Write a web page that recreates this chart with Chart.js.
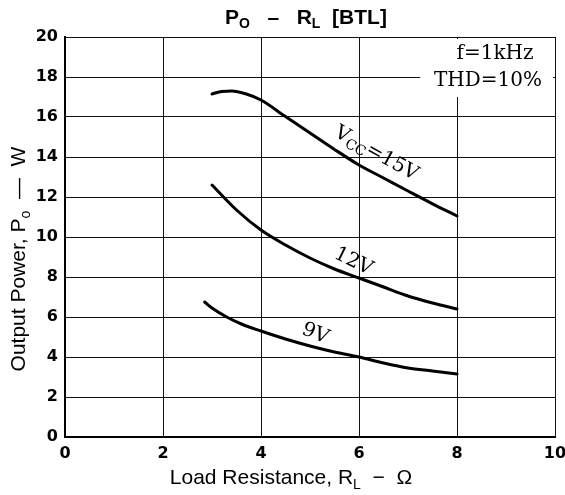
<!DOCTYPE html>
<html><head><meta charset="utf-8">
<script src="https://cdn.jsdelivr.net/npm/chart.js@4.4.0/dist/chart.umd.min.js"></script>
<style>html,body{margin:0;padding:0;background:#fff}#wrap{width:565px;height:495px}</style>
</head><body><div id="wrap"><canvas id="c" width="565" height="495"></canvas></div>
<script>
// ---- data ----
const xTicks = [0, 2, 4, 6, 8, 10];
const yTicks = [0, 2, 4, 6, 8, 10, 12, 14, 16, 18, 20];

const rL15 = [3.0, 3.2, 3.4, 3.7, 4.0, 4.5, 5.0, 5.5, 6.0, 6.5, 7.0, 7.5, 8.0];
const po15 = [17.15, 17.28, 17.3, 17.15, 16.85, 16.02, 15.2, 14.38, 13.6, 12.95, 12.3, 11.66, 11.05];

const rL12 = [3.0, 3.5, 4.0, 4.5, 5.0, 5.5, 6.0, 6.5, 7.0, 7.5, 8.0];
const po12 = [12.6, 11.35, 10.35, 9.6, 8.95, 8.4, 7.95, 7.5, 7.05, 6.7, 6.4];

const rL9 = [2.85, 3.0, 3.3, 3.6, 4.0, 4.5, 5.0, 5.5, 6.0, 6.5, 7.0, 7.5, 8.0];
const po9 = [6.75, 6.45, 6.0, 5.65, 5.3, 4.9, 4.55, 4.25, 4.0, 3.7, 3.45, 3.3, 3.15];

const seriesNames = ['15V', '12V', '9V'];

function pts(xs, ys) { return xs.map((x, i) => ({ x: x, y: ys[i] })); }

// ---- rich text helper (subscripts) ----
function richWidth(ctx, parts, font, subFont) {
  let w = 0;
  for (const p of parts) { ctx.font = p[1] ? subFont : font; w += ctx.measureText(p[0]).width; }
  return w;
}
function drawRich(ctx, parts, x, y, font, subFont, subDy) {
  let w = richWidth(ctx, parts, font, subFont);
  let cx = x - w / 2;
  ctx.textAlign = 'left';
  ctx.textBaseline = 'alphabetic';
  for (const p of parts) {
    ctx.font = p[1] ? subFont : font;
    ctx.fillText(p[0], cx, y + (p[1] ? subDy : 0));
    cx += ctx.measureText(p[0]).width;
  }
}

const textPlugin = {
  id: 'texts',
  afterDraw(chart) {
    const ctx = chart.ctx;
    const xs = chart.scales.x, ys = chart.scales.y;
    const ca = chart.chartArea;
    ctx.save();
    ctx.fillStyle = '#000';

    // Title
    drawRich(ctx, [['P', 0], ['O', 1], ['   \u2013   ', 0], ['R', 0], ['L', 1], ['  [BTL]', 0]],
      306, 24, 'bold 21px "Liberation Sans"', 'bold 14px "Liberation Sans"', 4);

    // X axis title
    drawRich(ctx, [['Load Resistance, R', 0], ['L', 1], ['  \u2212  \u03A9', 0]],
      291, 484, '21px "Liberation Sans"', '14px "Liberation Sans"', 5);

    // Y axis title (rotated)
    ctx.save();
    ctx.translate(25, 259);
    ctx.rotate(-Math.PI / 2);
    drawRich(ctx, [['Output Power, P', 0], ['o', 1], ['  \u2014  W', 0]],
      0, 0, '21px "Liberation Sans"', '14px "Liberation Sans"', 5);
    ctx.restore();

    // Conditions box
    ctx.fillStyle = '#fff';
    const bx0 = xs.getPixelForValue(7.25), by0 = ca.top + 2;
    ctx.fillRect(bx0, by0, ca.right - 2 - bx0, ys.getPixelForValue(17.0) - by0);
    ctx.fillStyle = '#000';
    ctx.font = '20px "DejaVu Serif"';
    ctx.textAlign = 'center';
    ctx.textBaseline = 'alphabetic';
    ctx.fillText('f=1kHz', 495, 59);
    ctx.fillText('THD=10%', 488, 86);

    // Curve labels
    const labels = [
      { parts: [['V', 0], ['CC', 1], ['=15V', 0]], x: 6.37, y: 14.25, a: 29 },
      { parts: [['12V', 0]], x: 5.9, y: 8.85, a: 26 },
      { parts: [['9V', 0]], x: 5.12, y: 5.25, a: 22 }
    ];
    for (const l of labels) {
      ctx.save();
      ctx.translate(xs.getPixelForValue(l.x), ys.getPixelForValue(l.y));
      ctx.rotate(l.a * Math.PI / 180);
      drawRich(ctx, l.parts, 0, 7, '20px "DejaVu Serif"', '14px "DejaVu Serif"', 4);
      ctx.restore();
    }
    ctx.restore();
  }
};

const lineStyle = {
  borderColor: '#000', borderWidth: 3, pointRadius: 0, showLine: true,
  fill: false, cubicInterpolationMode: 'monotone', borderCapStyle: 'round'
};

new Chart(document.getElementById('c'), {
  type: 'scatter',
  data: {
    datasets: [
      Object.assign({ label: seriesNames[0], data: pts(rL15, po15) }, lineStyle),
      Object.assign({ label: seriesNames[1], data: pts(rL12, po12) }, lineStyle),
      Object.assign({ label: seriesNames[2], data: pts(rL9, po9) }, lineStyle)
    ]
  },
  options: {
    responsive: false,
    devicePixelRatio: 1,
    animation: false,
    layout: { padding: { top: 37, right: 10, left: 0, bottom: 0 } },
    plugins: { legend: { display: false }, tooltip: { enabled: false }, title: { display: false } },
    scales: {
      x: {
        type: 'linear', min: 0, max: 10,
        afterBuildTicks(s) { s.ticks = xTicks.map(v => ({ value: v })); },
        afterFit(s) { s.height = 58; s.paddingLeft = 0; s.paddingRight = 0; },
        ticks: { color: '#000', font: { family: 'DejaVu Sans', weight: 'bold', size: 16 }, padding: 7, maxRotation: 0 },
        grid: { color: '#111', lineWidth: 1, drawTicks: false },
        border: { display: true, color: '#000', width: 2 }
      },
      y: {
        type: 'linear', min: 0, max: 20,
        afterBuildTicks(s) { s.ticks = yTicks.map(v => ({ value: v })); },
        afterFit(s) { s.width = 65; s.paddingTop = 0; s.paddingBottom = 0; },
        ticks: { color: '#000', font: { family: 'DejaVu Sans', weight: 'bold', size: 16 }, padding: 7 },
        grid: { color: '#111', lineWidth: 1, drawTicks: false },
        border: { display: true, color: '#000', width: 2 }
      }
    }
  },
  plugins: [textPlugin]
});
</script>
</body></html>
